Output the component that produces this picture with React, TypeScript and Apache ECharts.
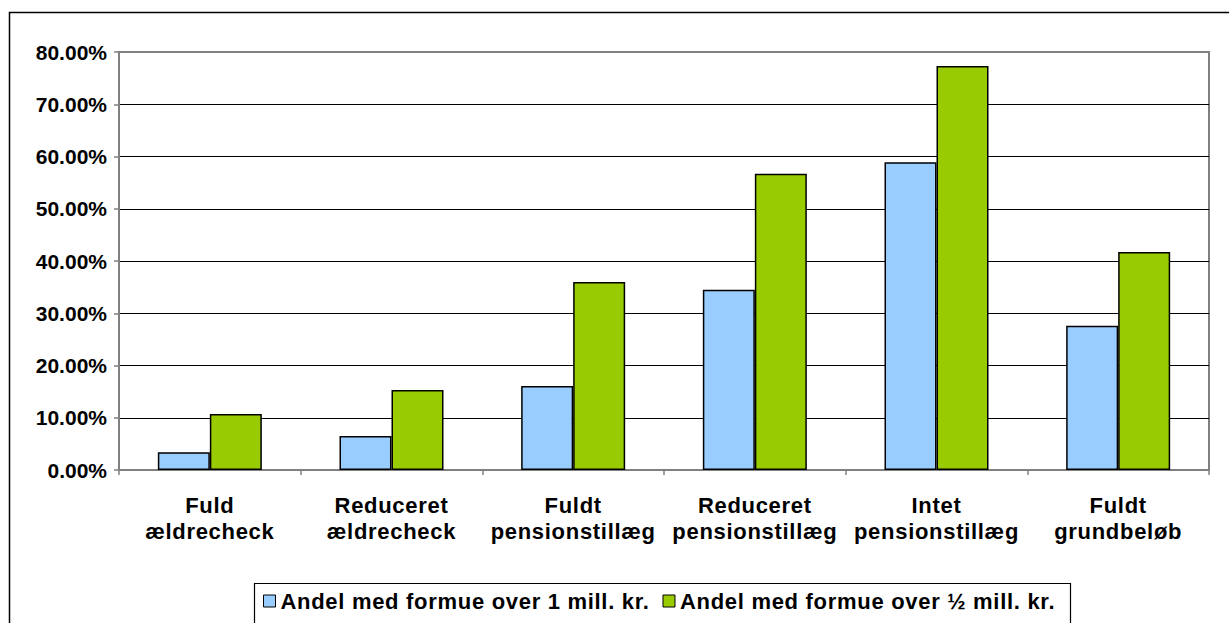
import React, { useEffect, useRef } from "react";
import * as echarts from "echarts";

const categories = [
  "Fuld\nældrecheck",
  "Reduceret\nældrecheck",
  "Fuldt\npensionstillæg",
  "Reduceret\npensionstillæg",
  "Intet\npensionstillæg",
  "Fuldt\ngrundbeløb",
];
const seriesNames = [
  "Andel med formue over 1 mill. kr.",
  "Andel med formue over ½ mill. kr.",
];
const overOneMill = [3.4, 6.5, 16.1, 34.5, 58.9, 27.6];
const overHalfMill = [10.7, 15.3, 36.0, 56.7, 77.3, 41.7];
const yTicks = { min: 0, max: 80, interval: 10 };

const FONT = "'Liberation Sans', Arial, sans-serif";

export default function App() {
  const ref = useRef<HTMLDivElement>(null);
  useEffect(() => {
    document.body.style.margin = "0";
    const st = document.createElement("style");
    st.textContent = "#root svg text[style*='22px'] { letter-spacing: 0.7px; }";
    document.head.appendChild(st);
    const chart = echarts.init(ref.current!, undefined, { renderer: "svg" });
    chart.setOption({
      animation: false,
      backgroundColor: "#ffffff",
      textStyle: { fontFamily: FONT },
      grid: {
        left: 119,
        right: 20,
        top: 52,
        bottom: 153,
        show: true,
        borderColor: "#808080",
        borderWidth: 2,
        backgroundColor: "transparent",
      },
      graphic: [
        {
          type: "rect",
          shape: { x: 9.5, y: 12.5, width: 1400, height: 800 },
          style: { fill: "none", stroke: "#000", lineWidth: 1.5 },
          z: -10,
        },
        {
          type: "rect",
          shape: { x: 254.5, y: 583.5, width: 816, height: 80 },
          style: { fill: "#fff", stroke: "#000", lineWidth: 1.2 },
          z: -5,
        },
      ],
      legend: {
        left: 263,
        top: 590,
        padding: 0,
        itemGap: 36,
        itemWidth: 12,
        itemHeight: 12,
        icon: "rect",
        textStyle: { fontFamily: FONT, fontWeight: "bold", fontSize: 22, color: "#000" },
        data: seriesNames.map((n) => ({ name: n, itemStyle: { borderColor: "#000", borderWidth: 1 } })),
      },
      xAxis: {
        type: "category",
        data: categories,
        axisLine: { lineStyle: { color: "#808080", width: 2 } },
        axisTick: { show: true, length: 5, lineStyle: { color: "#808080", width: 1.5 } },
        axisLabel: {
          interval: 0,
          margin: 22,
          fontFamily: FONT,
          fontWeight: "bold",
          fontSize: 22,
          lineHeight: 26,
          color: "#000",
        },
      },
      yAxis: {
        type: "value",
        min: yTicks.min,
        max: yTicks.max,
        interval: yTicks.interval,
        axisLine: { show: true, lineStyle: { color: "#808080", width: 2 } },
        axisTick: { show: true, length: 5, lineStyle: { color: "#808080", width: 1.5 } },
        splitLine: { show: true, showMaxLine: false, lineStyle: { color: "#000", width: 1 } },
        axisLabel: {
          margin: 12,
          fontFamily: FONT,
          fontWeight: "bold",
          fontSize: 21,
          color: "#000",
          formatter: (v: number) => v.toFixed(2) + "%",
        },
      },
      series: [
        {
          name: seriesNames[0],
          type: "bar",
          data: overOneMill,
          barWidth: 52,
          barGap: "0%",
          itemStyle: { color: "#99CCFF", borderColor: "#000", borderWidth: 1.5 },
        },
        {
          name: seriesNames[1],
          type: "bar",
          data: overHalfMill,
          barWidth: 52,
          barGap: "0%",
          itemStyle: { color: "#99CC00", borderColor: "#000", borderWidth: 1.5 },
        },
      ],
    });
    return () => {
      chart.dispose();
      st.remove();
    };
  }, []);
  return <div ref={ref} style={{ width: 1229, height: 623 }} />;
}
